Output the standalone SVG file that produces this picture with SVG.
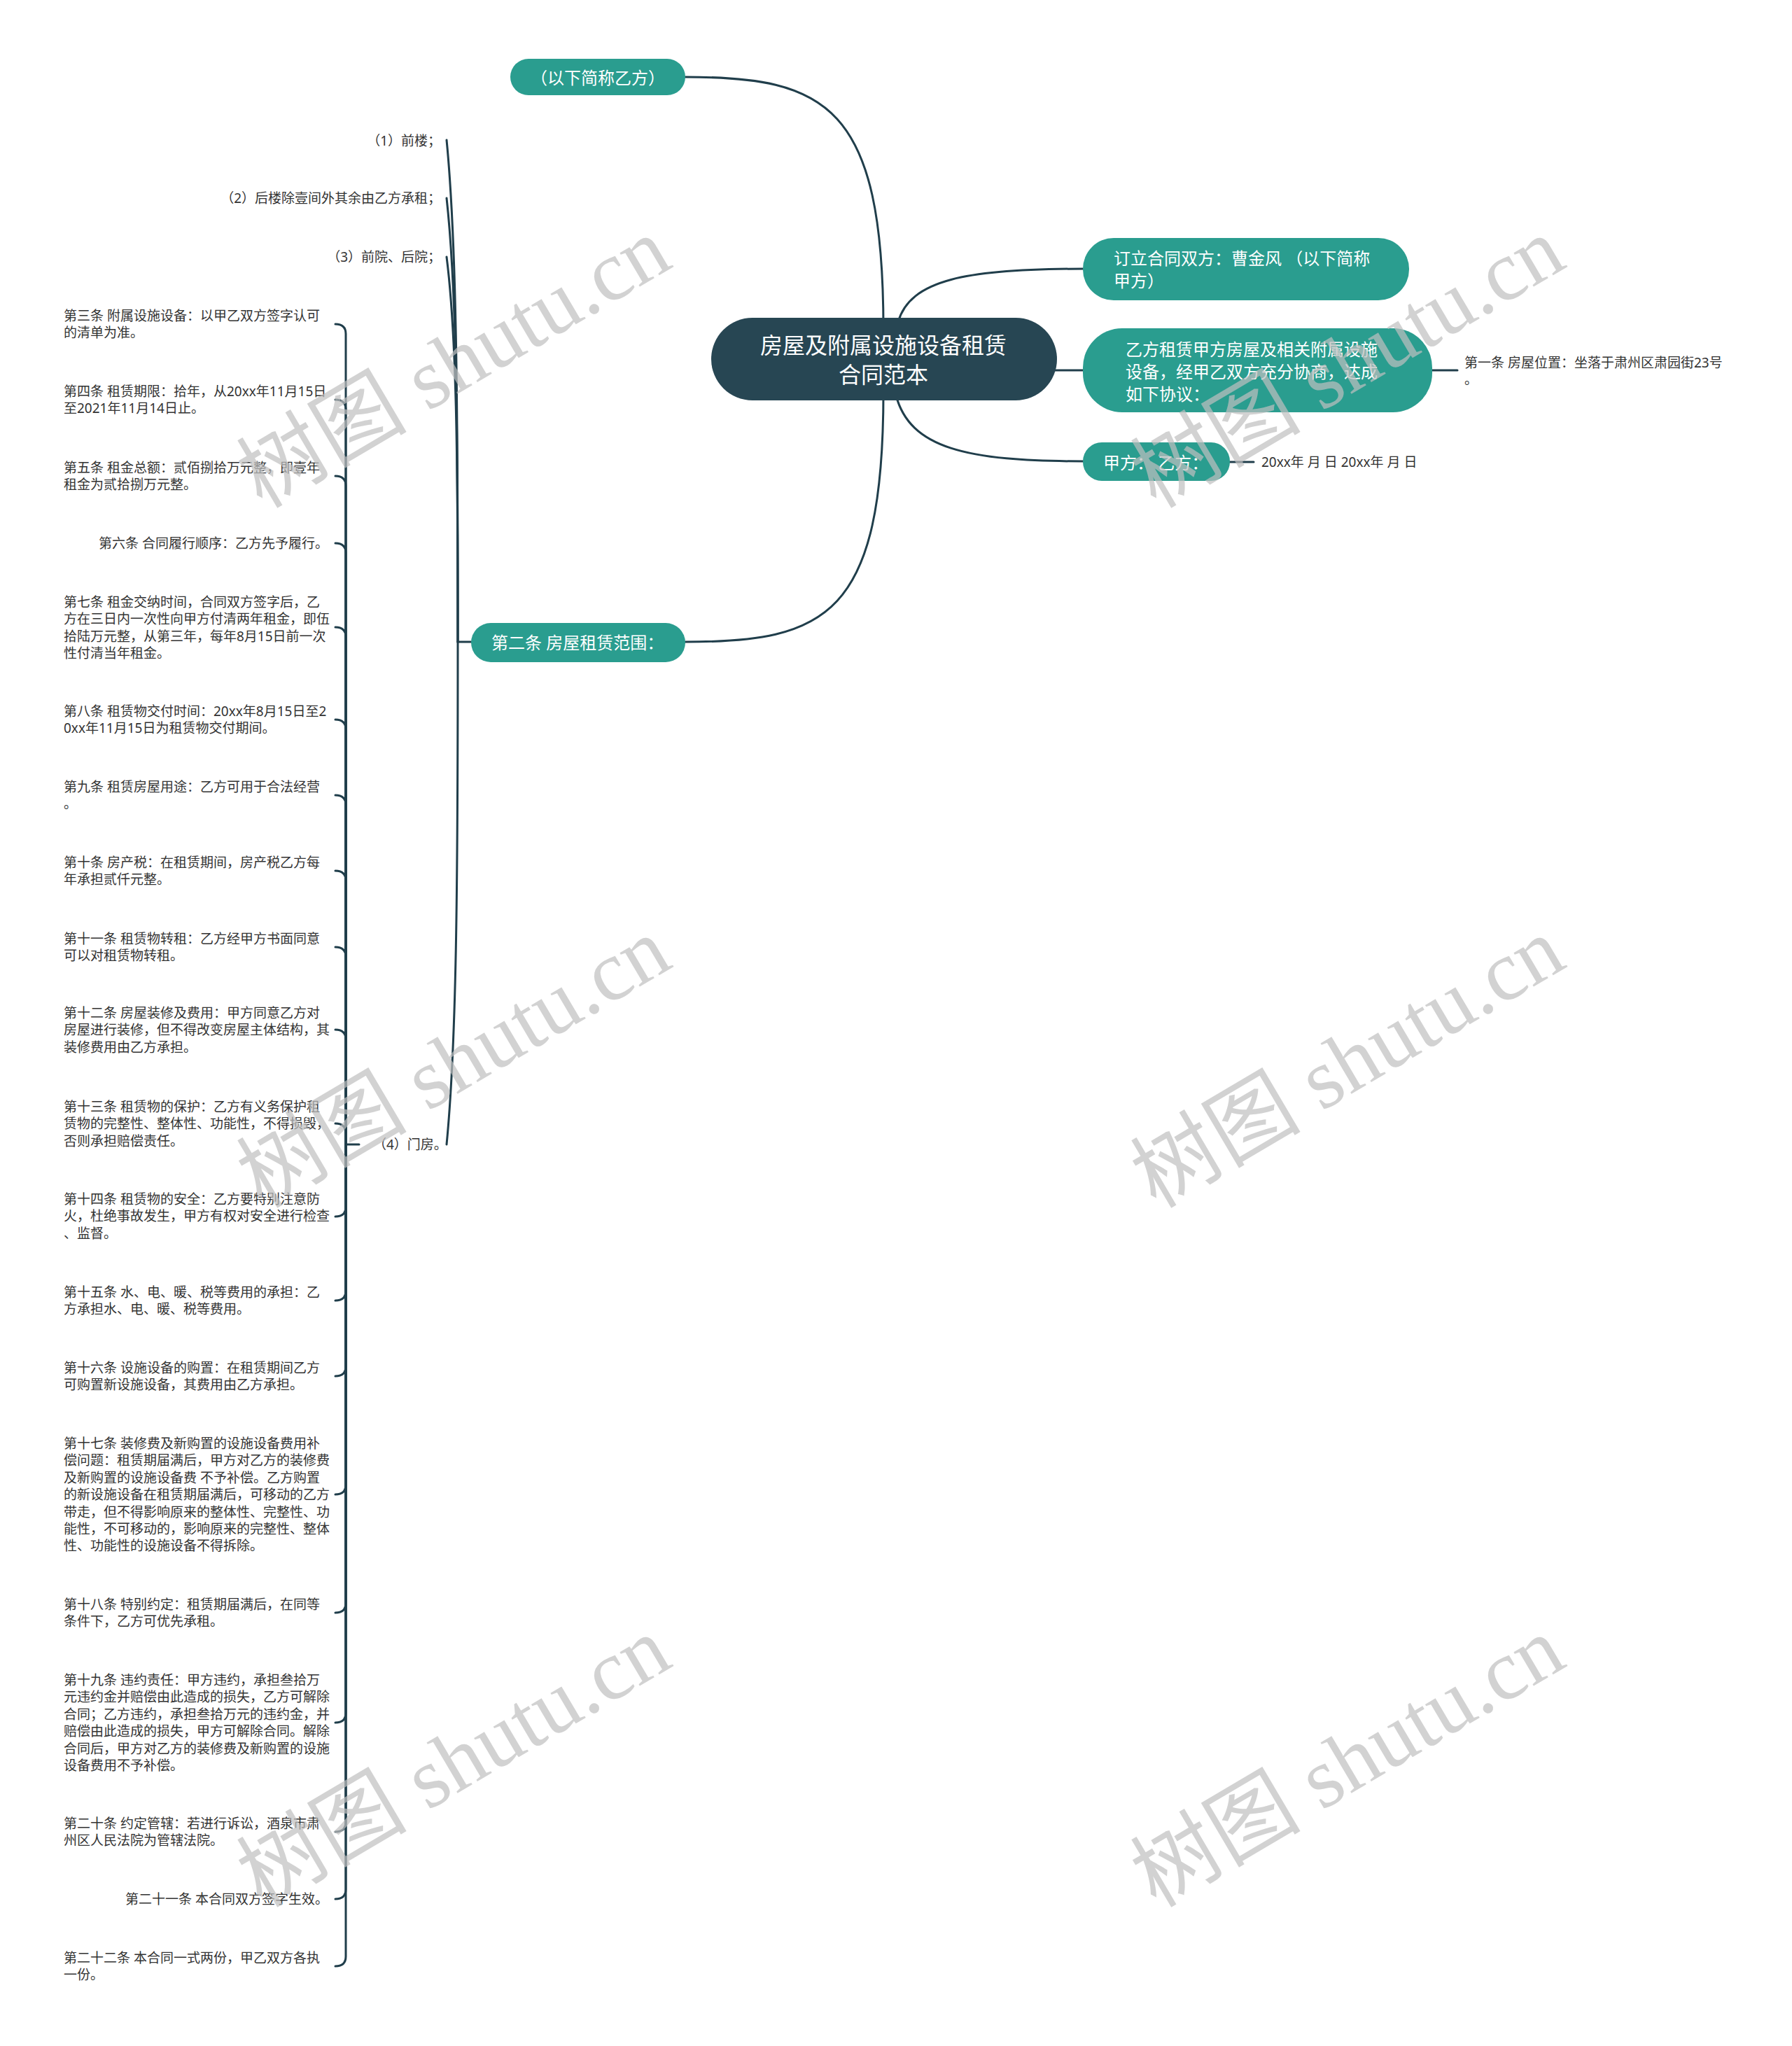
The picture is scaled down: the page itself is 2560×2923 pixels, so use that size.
<svg xmlns="http://www.w3.org/2000/svg" width="2560" height="2923" viewBox="0 0 2560 2923">
<style>
.bg{fill:#ffffff}
.ln{fill:none;stroke:#203e4b;stroke-width:3;stroke-linecap:round}
.teal{fill:#2a9d8f}
.root{fill:#274653}
.wt{fill:#ffffff;font-family:"Noto Sans","Noto Sans CJK SC",sans-serif;dominant-baseline:central}
.lt{fill:#333333;font-family:"Noto Sans","Noto Sans CJK SC",sans-serif;font-size:19px;dominant-baseline:central}
.wm{fill:#c0c0c0;opacity:0.7;font-family:"Liberation Serif","Noto Sans CJK SC",serif;font-size:122px;text-anchor:middle;dominant-baseline:central}
</style>
<rect class="bg" x="0" y="0" width="2560" height="2923"/>

<g id="connectors">
<path class="ln" d="M1262 470 C1262 150 1180 110 979 110"/>
<path class="ln" d="M1262 560 C1262 880 1180 917 979 917"/>
<path class="ln" d="M1283 460 C1300 400 1380 384 1547 384"/>
<path class="ln" d="M1500 529 L1547 529"/>
<path class="ln" d="M1280 565 C1300 640 1380 659 1547 659"/>
<path class="ln" d="M2046 529 L2082 529"/>
<path class="ln" d="M1757 660 L1791 660"/>
<path class="ln" d="M673 917 L654 917"/>
<path class="ln" d="M654 917 C654 560 652 343 638 200"/>
<path class="ln" d="M654 917 C654 600 652 410 638 283"/>
<path class="ln" d="M654 917 C654 642 652 477 638 367"/>
<path class="ln" d="M654 917 C654 1276 652 1491 638 1635"/>
<path class="ln" d="M513 1635 L494 1635"/>
<path class="ln" d="M494 1635 L494 477 Q494 463 479 463"/>
<path class="ln" d="M494 1635 L494 585 Q494 571 479 571"/>
<path class="ln" d="M494 1635 L494 694 Q494 680 479 680"/>
<path class="ln" d="M494 1635 L494 790 Q494 776 479 776"/>
<path class="ln" d="M494 1635 L494 910 Q494 896 479 896"/>
<path class="ln" d="M494 1635 L494 1042 Q494 1028 479 1028"/>
<path class="ln" d="M494 1635 L494 1150 Q494 1136 479 1136"/>
<path class="ln" d="M494 1635 L494 1258 Q494 1244 479 1244"/>
<path class="ln" d="M494 1635 L494 1367 Q494 1353 479 1353"/>
<path class="ln" d="M494 1635 L494 1485 Q494 1471 479 1471"/>
<path class="ln" d="M494 1635 L494 1619 Q494 1605 479 1605"/>
<path class="ln" d="M494 1635 L494 1724 Q494 1738 479 1738"/>
<path class="ln" d="M494 1635 L494 1844 Q494 1858 479 1858"/>
<path class="ln" d="M494 1635 L494 1952 Q494 1966 479 1966"/>
<path class="ln" d="M494 1635 L494 2121 Q494 2135 479 2135"/>
<path class="ln" d="M494 1635 L494 2290 Q494 2304 479 2304"/>
<path class="ln" d="M494 1635 L494 2447 Q494 2461 479 2461"/>
<path class="ln" d="M494 1635 L494 2603 Q494 2617 479 2617"/>
<path class="ln" d="M494 1635 L494 2699 Q494 2713 479 2713"/>
<path class="ln" d="M494 1635 L494 2795 Q494 2809 479 2809"/>
</g>

<g id="root">
<rect class="root" x="1016" y="454" width="494" height="118" rx="59"/>
<text class="wt" font-size="32" text-anchor="middle"><tspan x="1262" y="492">房屋及附属设施设备租赁</tspan><tspan x="1262" y="534">合同范本</tspan></text>
</g>

<g id="n-yifang">
<rect class="teal" x="729" y="84" width="250" height="52" rx="26"/>
<text class="wt" font-size="24" x="854" y="110" text-anchor="middle">（以下简称乙方）</text>
</g>

<g id="n-dingli">
<rect class="teal" x="1547" y="340" width="466" height="89" rx="44"/>
<text class="wt" font-size="24"><tspan x="1591" y="368">订立合同双方：曹金风 （以下简称</tspan><tspan x="1591" y="400">甲方）</tspan></text>
</g>

<g id="n-zulin">
<rect class="teal" x="1547" y="469" width="499" height="120" rx="56"/>
<text class="wt" font-size="24"><tspan x="1608" y="498">乙方租赁甲方房屋及相关附属设施</tspan><tspan x="1608" y="530">设备，经甲乙双方充分协商，达成</tspan><tspan x="1608" y="562">如下协议：</tspan></text>
</g>

<g id="n-jiayi">
<rect class="teal" x="1547" y="632" width="210" height="55" rx="27"/>
<text class="wt" font-size="24" x="1576" y="660">甲方： 乙方：</text>
</g>

<g id="n-date">
<text class="lt" x="1802" y="660">20xx年 月 日 20xx年 月 日</text>
</g>

<g id="n-diyi">
<text class="lt"><tspan x="2092" y="518">第一条 房屋位置：坐落于肃州区肃园街23号</tspan><tspan x="2092" y="542">。</tspan></text>
</g>

<g id="n-dier">
<rect class="teal" x="673" y="890" width="306" height="56" rx="28"/>
<text class="wt" font-size="24" x="702" y="917">第二条 房屋租赁范围：</text>
</g>

<g id="n-scope1"><text class="lt" x="630" y="201" text-anchor="end">（1）前楼；</text></g>
<g id="n-scope2"><text class="lt" x="630" y="283" text-anchor="end">（2）后楼除壹间外其余由乙方承租；</text></g>
<g id="n-scope3"><text class="lt" x="630" y="367" text-anchor="end">（3）前院、后院；</text></g>
<g id="n-scope4"><text class="lt" x="533" y="1635">（4）门房。</text></g>

<g id="n-a3"><text class="lt"><tspan x="91" y="451">第三条 附属设施设备：以甲乙双方签字认可</tspan><tspan x="91" dy="24.4">的清单为准。</tspan></text></g>
<g id="n-a4"><text class="lt"><tspan x="91" y="559">第四条 租赁期限：拾年，从20xx年11月15日</tspan><tspan x="91" dy="24.4">至2021年11月14日止。</tspan></text></g>
<g id="n-a5"><text class="lt"><tspan x="91" y="668">第五条 租金总额：贰佰捌拾万元整，即壹年</tspan><tspan x="91" dy="24.4">租金为贰拾捌万元整。</tspan></text></g>
<g id="n-a6"><text class="lt" x="469" y="776" text-anchor="end">第六条 合同履行顺序：乙方先予履行。</text></g>
<g id="n-a7"><text class="lt"><tspan x="91" y="860">第七条 租金交纳时间，合同双方签字后，乙</tspan><tspan x="91" dy="24.4">方在三日内一次性向甲方付清两年租金，即伍</tspan><tspan x="91" dy="24.4">拾陆万元整，从第三年，每年8月15日前一次</tspan><tspan x="91" dy="24.4">性付清当年租金。</tspan></text></g>
<g id="n-a8"><text class="lt"><tspan x="91" y="1016">第八条 租赁物交付时间：20xx年8月15日至2</tspan><tspan x="91" dy="24.4">0xx年11月15日为租赁物交付期间。</tspan></text></g>
<g id="n-a9"><text class="lt"><tspan x="91" y="1124">第九条 租赁房屋用途：乙方可用于合法经营</tspan><tspan x="91" dy="24.4">。</tspan></text></g>
<g id="n-a10"><text class="lt"><tspan x="91" y="1232">第十条 房产税：在租赁期间，房产税乙方每</tspan><tspan x="91" dy="24.4">年承担贰仟元整。</tspan></text></g>
<g id="n-a11"><text class="lt"><tspan x="91" y="1341">第十一条 租赁物转租：乙方经甲方书面同意</tspan><tspan x="91" dy="24.4">可以对租赁物转租。</tspan></text></g>
<g id="n-a12"><text class="lt"><tspan x="91" y="1447">第十二条 房屋装修及费用：甲方同意乙方对</tspan><tspan x="91" dy="24.4">房屋进行装修，但不得改变房屋主体结构，其</tspan><tspan x="91" dy="24.4">装修费用由乙方承担。</tspan></text></g>
<g id="n-a13"><text class="lt"><tspan x="91" y="1581">第十三条 租赁物的保护：乙方有义务保护租</tspan><tspan x="91" dy="24.4">赁物的完整性、整体性、功能性，不得损毁，</tspan><tspan x="91" dy="24.4">否则承担赔偿责任。</tspan></text></g>
<g id="n-a14"><text class="lt"><tspan x="91" y="1713">第十四条 租赁物的安全：乙方要特别注意防</tspan><tspan x="91" dy="24.4">火，杜绝事故发生，甲方有权对安全进行检查</tspan><tspan x="91" dy="24.4">、监督。</tspan></text></g>
<g id="n-a15"><text class="lt"><tspan x="91" y="1846">第十五条 水、电、暖、税等费用的承担：乙</tspan><tspan x="91" dy="24.4">方承担水、电、暖、税等费用。</tspan></text></g>
<g id="n-a16"><text class="lt"><tspan x="91" y="1954">第十六条 设施设备的购置：在租赁期间乙方</tspan><tspan x="91" dy="24.4">可购置新设施设备，其费用由乙方承担。</tspan></text></g>
<g id="n-a17"><text class="lt"><tspan x="91" y="2062">第十七条 装修费及新购置的设施设备费用补</tspan><tspan x="91" dy="24.4">偿问题：租赁期届满后，甲方对乙方的装修费</tspan><tspan x="91" dy="24.4">及新购置的设施设备费 不予补偿。乙方购置</tspan><tspan x="91" dy="24.4">的新设施设备在租赁期届满后，可移动的乙方</tspan><tspan x="91" dy="24.4">带走，但不得影响原来的整体性、完整性、功</tspan><tspan x="91" dy="24.4">能性，不可移动的，影响原来的完整性、整体</tspan><tspan x="91" dy="24.4">性、功能性的设施设备不得拆除。</tspan></text></g>
<g id="n-a18"><text class="lt"><tspan x="91" y="2292">第十八条 特别约定：租赁期届满后，在同等</tspan><tspan x="91" dy="24.4">条件下，乙方可优先承租。</tspan></text></g>
<g id="n-a19"><text class="lt"><tspan x="91" y="2400">第十九条 违约责任：甲方违约，承担叁拾万</tspan><tspan x="91" dy="24.4">元违约金并赔偿由此造成的损失，乙方可解除</tspan><tspan x="91" dy="24.4">合同；乙方违约，承担叁拾万元的违约金，并</tspan><tspan x="91" dy="24.4">赔偿由此造成的损失，甲方可解除合同。解除</tspan><tspan x="91" dy="24.4">合同后，甲方对乙方的装修费及新购置的设施</tspan><tspan x="91" dy="24.4">设备费用不予补偿。</tspan></text></g>
<g id="n-a20"><text class="lt"><tspan x="91" y="2605">第二十条 约定管辖：若进行诉讼，酒泉市肃</tspan><tspan x="91" dy="24.4">州区人民法院为管辖法院。</tspan></text></g>
<g id="n-a21"><text class="lt" x="469" y="2713" text-anchor="end">第二十一条 本合同双方签字生效。</text></g>
<g id="n-a22"><text class="lt"><tspan x="91" y="2797">第二十二条 本合同一式两份，甲乙双方各执</tspan><tspan x="91" dy="24.4">一份。</tspan></text></g>

<g id="watermarks">
<text class="wm" x="648" y="518" transform="rotate(-30.5 648 518)">树图 shutu.cn</text>
<text class="wm" x="1925" y="518" transform="rotate(-30.5 1925 518)">树图 shutu.cn</text>
<text class="wm" x="648" y="1518" transform="rotate(-30.5 648 1518)">树图 shutu.cn</text>
<text class="wm" x="1925" y="1518" transform="rotate(-30.5 1925 1518)">树图 shutu.cn</text>
<text class="wm" x="648" y="2517" transform="rotate(-30.5 648 2517)">树图 shutu.cn</text>
<text class="wm" x="1925" y="2517" transform="rotate(-30.5 1925 2517)">树图 shutu.cn</text>
</g>
</svg>
